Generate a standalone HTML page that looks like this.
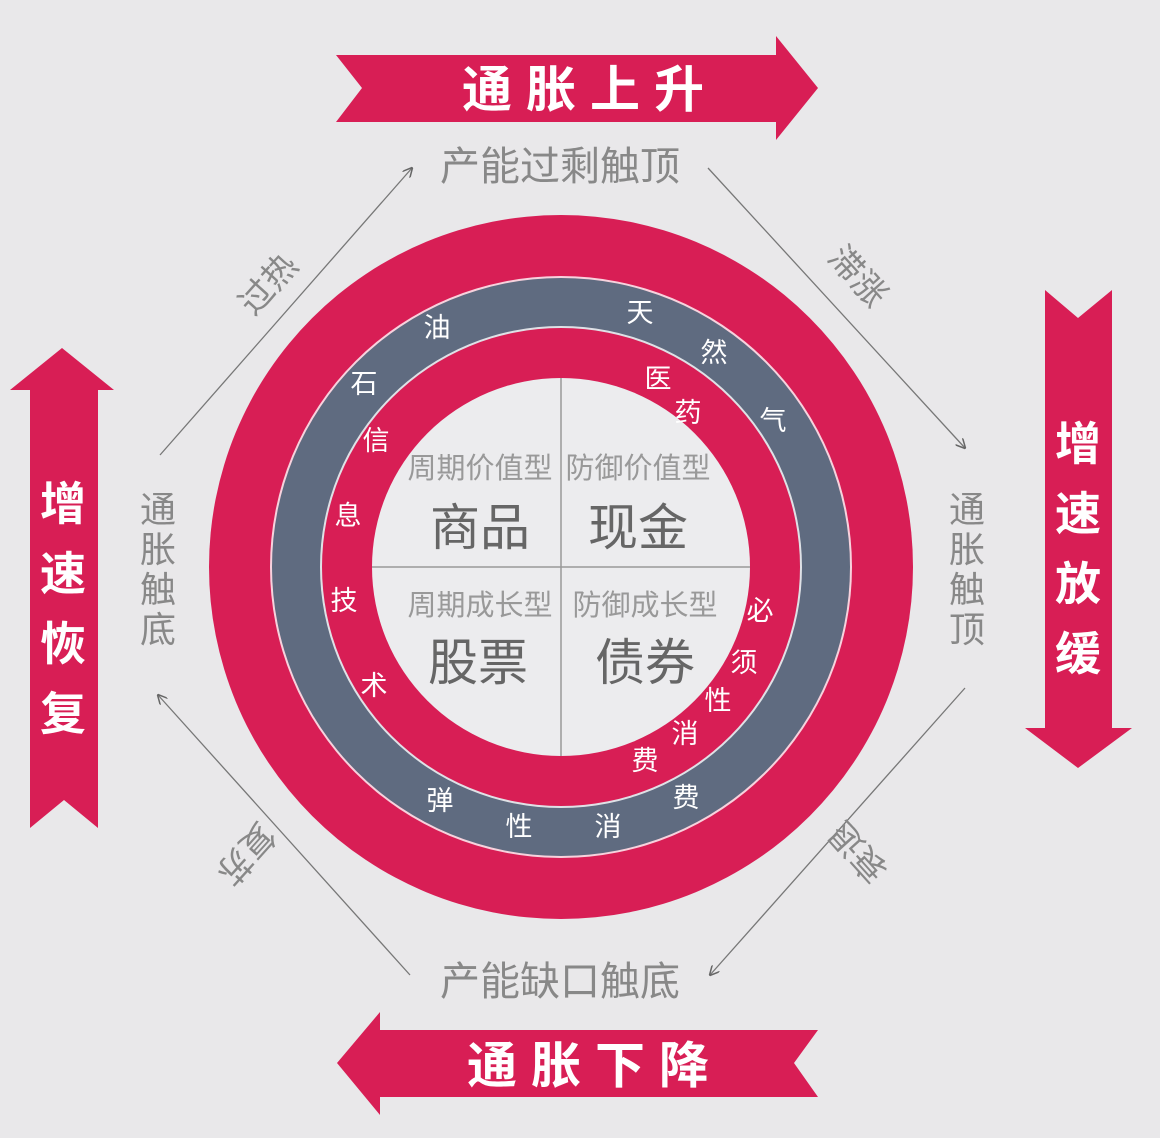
<!DOCTYPE html>
<html><head><meta charset="utf-8"><style>
html,body{margin:0;padding:0;background:#e9e8ea;}
svg{display:block}
text{font-family:"Liberation Sans","Noto Sans CJK SC",sans-serif;}
</style></head><body>
<svg width="1160" height="1138" viewBox="0 0 1160 1138" xmlns="http://www.w3.org/2000/svg">
<defs>
<marker id="ah" markerWidth="10" markerHeight="10" refX="9" refY="5" orient="auto" markerUnits="userSpaceOnUse">
<path d="M0,0 L10,5 L0,10" fill="none" stroke="#666" stroke-width="1.5"/>
</marker>
</defs>
<rect width="1160" height="1138" fill="#e9e8ea"/>
<polygon points="336,55 776,55 776,36 818,88 776,140 776,122 336,122 362,88" fill="#d81e55"/>
<text x="590" y="107" font-size="50" font-weight="bold" fill="#fff" text-anchor="middle" letter-spacing="14">通胀上升</text>
<polygon points="818,1030 380,1030 380,1012 337,1063 380,1115 380,1097 818,1097 794,1063" fill="#d81e55"/>
<text x="595" y="1083" font-size="50" font-weight="bold" fill="#fff" text-anchor="middle" letter-spacing="14">通胀下降</text>
<polygon points="30,828 30,390 10,390 62,348 114,390 98,390 98,828 64,800" fill="#d81e55"/>
<g font-size="46" font-weight="bold" fill="#fff" text-anchor="middle">
<text x="63" y="520">增</text><text x="63" y="590">速</text><text x="63" y="660">恢</text><text x="63" y="730">复</text>
</g>
<polygon points="1045,290 1045,728 1025,728 1078,768 1132,728 1112,728 1112,290 1078,318" fill="#d81e55"/>
<g font-size="46" font-weight="bold" fill="#fff" text-anchor="middle">
<text x="1078" y="460">增</text><text x="1078" y="530">速</text><text x="1078" y="600">放</text><text x="1078" y="670">缓</text>
</g>
<g fill="#888" font-size="40" text-anchor="middle">
<text x="560" y="180">产能过剩触顶</text>
<text x="560" y="995">产能缺口触底</text>
</g>
<g fill="#888" font-size="36" text-anchor="middle">
<text x="158" y="522">通</text><text x="158" y="562">胀</text><text x="158" y="602">触</text><text x="158" y="642">底</text>
<text x="967" y="522">通</text><text x="967" y="562">胀</text><text x="967" y="602">触</text><text x="967" y="642">顶</text>
</g>
<g stroke="#777" stroke-width="1.3" fill="none">
<line x1="160" y1="455" x2="412" y2="168" marker-end="url(#ah)"/>
<line x1="708" y1="168" x2="965" y2="448" marker-end="url(#ah)"/>
<line x1="965" y1="688" x2="710" y2="975" marker-end="url(#ah)"/>
<line x1="410" y1="975" x2="158" y2="695" marker-end="url(#ah)"/>
</g>
<g fill="#888" font-size="34" text-anchor="middle">
<text transform="translate(268,284) rotate(-48)" y="12">过热</text>
<text transform="translate(858,276) rotate(48)" y="12">滞涨</text>
<text transform="translate(858,852) rotate(-132)" y="12">衰退</text>
<text transform="translate(246,854) rotate(132)" y="12">复苏</text>
</g>
<circle cx="561" cy="567" r="352" fill="#d81e55"/>
<circle cx="561" cy="567" r="291" fill="#fff" opacity="0.8"/>
<circle cx="561" cy="567" r="289" fill="#5f6b80"/>
<circle cx="561" cy="567" r="241" fill="#fff" opacity="0.8"/>
<circle cx="561" cy="567" r="239" fill="#d81e55"/>
<circle cx="561" cy="567" r="189" fill="#ececee"/>
<line x1="561" y1="378" x2="561" y2="756" stroke="#999" stroke-width="1.5"/>
<line x1="372" y1="567" x2="750" y2="567" stroke="#999" stroke-width="1.5"/>
<g fill="#999" font-size="29" text-anchor="middle">
<text x="480" y="478">周期价值型</text>
<text x="638" y="478">防御价值型</text>
<text x="480" y="615">周期成长型</text>
<text x="645" y="615">防御成长型</text>
</g>
<g fill="#666" font-size="50" text-anchor="middle">
<text x="480" y="545">商品</text>
<text x="638" y="545">现金</text>
<text x="478" y="680">股票</text>
<text x="645" y="680">债券</text>
</g>
<g fill="#fff" font-size="27" text-anchor="middle">
<text x="437" y="337">油</text><text x="364" y="393">石</text>
<text x="640" y="322">天</text><text x="714" y="362">然</text><text x="773" y="430">气</text>
<text x="440" y="810">弹</text><text x="519" y="836">性</text><text x="608" y="836">消</text><text x="686" y="807">费</text>
<text x="376" y="450">信</text><text x="348" y="525">息</text><text x="344" y="610">技</text><text x="374" y="695">术</text>
<text x="658" y="388">医</text><text x="688" y="422">药</text>
<text x="760" y="620">必</text><text x="744" y="672">须</text><text x="718" y="710">性</text><text x="685" y="743">消</text><text x="645" y="770">费</text>
</g>
</svg>
</body></html>
